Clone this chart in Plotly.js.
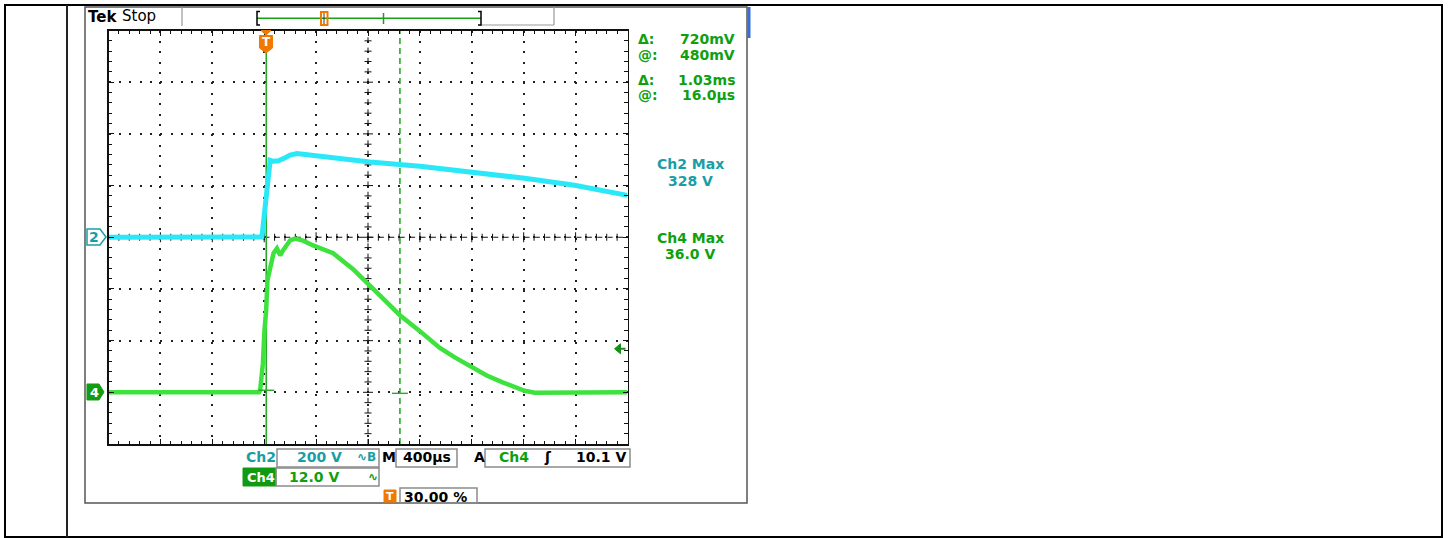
<!DOCTYPE html>
<html>
<head>
<meta charset="utf-8">
<script src="https://cdn.plot.ly/plotly-3.0.1.min.js"></script>
<style>
html,body{margin:0;padding:0;background:#fff;}
#chart{width:1448px;height:538px;}
</style>
</head>
<body>
<div id="chart"></div>
<script>
// Channel 2 (200 V/div, ground at centre), time in microseconds relative to trigger
const ch2Time = [-1200, -18, -8, 2, 12, 21, 31, 38, 46, 72, 110, 162, 200, 252, 377, 508, 636, 815, 1200, 1585, 2008, 2392, 2800];
const ch2Volt = [0, 1, 46, 93, 162, 209, 251, 286, 298, 294, 296, 308, 318, 324, 317, 311, 301, 291, 275, 253, 228, 201, 162];
// Channel 4 (12 V/div, ground 3 div below centre)
const ch4Time = [-1200, -40, -31, -10, 2, 15, 25, 46, 72, 98, 123, 146, 200, 238, 300, 377, 531, 685, 815, 931, 1046, 1200, 1354, 1469, 1585, 1715, 1838, 1931, 2008, 2085, 2800];
const ch4Volt = [0, 0, 0.5, 6.7, 14.4, 19.0, 26.0, 29.1, 32.3, 33.4, 31.8, 33.0, 35.3, 35.7, 35.2, 34.1, 32.3, 28.6, 24.8, 21.4, 17.9, 14.2, 10.3, 8.1, 6.0, 3.9, 2.3, 1.2, 0.35, -0.1, 0];
// Cursor readings
const cursorTimes = [16, 1046];          // µs
const cursorVolts = [0.48, -0.24];       // V on Ch4
const triggerLevel = 10.1;               // V on Ch4
const readouts = [["Δ:", "720mV"], ["@:", "480mV"], ["Δ:", "1.03ms"], ["@:", "16.0µs"]];
const maxLabels = [["Ch2 Max", "328 V"], ["Ch4 Max", "36.0 V"]];
const settings = {ch2: "200 V", ch4: "12.0 V", time: "400µs", trig: "10.1 V", pos: "30.00 %"};

// ---- Geometry helpers (page pixels -> paper) ----
const W = 1448, H = 538;
const X = p => p / W, Y = p => 1 - p / H;
const GL = 108.5, GR = 627.5, GT = 30.5, GB = 444;

const TEAL = '#1a9ea6', GREEN = '#0ea00e', CYAN = '#2ae8f8', TR4 = '#3de23d', CUR = '#2aa82a', ORANGE = '#f07a00';
const FONT = 'DejaVu Sans';

const shapes = [];
function rectPx(x0, y0, x1, y1, line, fill) {
  shapes.push({type: 'rect', xref: 'paper', yref: 'paper', x0: X(x0), x1: X(x1), y0: Y(y1), y1: Y(y0),
    line: line || {color: '#000', width: 1}, fillcolor: fill || 'rgba(0,0,0,0)', layer: 'above'});
}
function linePx(x0, y0, x1, y1, color, width, dash) {
  shapes.push({type: 'line', xref: 'paper', yref: 'paper', x0: X(x0), x1: X(x1), y0: Y(y0), y1: Y(y1),
    line: {color: color, width: width, dash: dash || 'solid'}, layer: 'above'});
}
function pathPx(pts, color, fill, width) {
  const d = pts.map((p, i) => (i ? 'L' : 'M') + X(p[0]).toFixed(5) + ',' + Y(p[1]).toFixed(5)).join(' ') + ' Z';
  shapes.push({type: 'path', xref: 'paper', yref: 'paper', path: d, line: {color: color, width: width || 1}, fillcolor: fill, layer: 'above'});
}

// Table borders
rectPx(5, 5, 1442, 537, {color: '#000', width: 2});
linePx(67, 5, 67, 537, '#222', 2);
// Screenshot frame
rectPx(85, 7, 747, 503, {color: '#555', width: 1.5});
rectPx(747.5, 7, 750.5, 38, {color: 'rgba(0,0,0,0)', width: 0}, '#3a6fd0');
// Status bar
linePx(182, 7, 182, 26, '#999', 1.2);
linePx(480, 25, 554, 25, '#999', 1.2);
linePx(554, 7, 554, 25, '#999', 1.2);
// Record bar
linePx(257, 18.3, 481, 18.3, '#19a019', 1.5);
shapes.push({type: 'path', xref: 'paper', yref: 'paper', path: `M${X(260)},${Y(11.5)} L${X(257)},${Y(11.5)} L${X(257)},${Y(25)} L${X(260)},${Y(25)}`, line: {color: '#000', width: 1.5}, layer: 'above'});
shapes.push({type: 'path', xref: 'paper', yref: 'paper', path: `M${X(478)},${Y(11.5)} L${X(481)},${Y(11.5)} L${X(481)},${Y(25)} L${X(478)},${Y(25)}`, line: {color: '#000', width: 1.5}, layer: 'above'});
rectPx(321, 12, 327.5, 25, {color: ORANGE, width: 2});
linePx(324, 13, 324, 24, '#333', 1);
linePx(383.5, 13, 383.5, 24, '#19a019', 1.5);

// Centre axes with ticks (graticule)
shapes.push({type: 'line', xref: 'x', yref: 'y', x0: -1200, x1: 2800, y0: 0, y1: 0, line: {color: '#111', width: 1, dash: '5px,5.4px'}, layer: 'between'});
shapes.push({type: 'line', xref: 'x', yref: 'y', x0: 800, x1: 800, y0: -800, y1: 800, line: {color: '#111', width: 1, dash: '5px,5.3px'}, layer: 'between'});
for (let k = 1; k < 50; k++) {
  const t = -1200 + k * 80, len = (k % 5 === 0) ? 5 : 3.5;
  shapes.push({type: 'line', xref: 'x', yref: 'y', ysizemode: 'pixel', yanchor: 0, y0: -len, y1: len, x0: t, x1: t, line: {color: '#111', width: 1}, layer: 'between'});
}
for (let j = 1; j < 40; j++) {
  const v = -800 + j * 40, len = (j % 5 === 0) ? 5 : 3.5;
  shapes.push({type: 'line', xref: 'x', yref: 'y', xsizemode: 'pixel', xanchor: 800, x0: -len, x1: len, y0: v, y1: v, line: {color: '#111', width: 1}, layer: 'between'});
}

// Cursors
shapes.push({type: 'line', xref: 'x', yref: 'y', x0: cursorTimes[0], x1: cursorTimes[0], y0: -800, y1: 800, line: {color: CUR, width: 1.6}, layer: 'between'});
shapes.push({type: 'line', xref: 'x', yref: 'y', x0: cursorTimes[1], x1: cursorTimes[1], y0: -800, y1: 800, line: {color: CUR, width: 1.6, dash: '6px,4px'}, layer: 'between'});
cursorTimes.forEach((t, i) => {
  shapes.push({type: 'line', xref: 'x', yref: 'y2', xsizemode: 'pixel', xanchor: t, x0: -8, x1: 8, y0: cursorVolts[i], y1: cursorVolts[i], line: {color: CUR, width: 1.4}, layer: 'above'});
});
// Trigger level arrow (right edge, Ch4 scale)
shapes.push({type: 'path', xref: 'x', yref: 'y2', xsizemode: 'pixel', xanchor: 2800, ysizemode: 'pixel', yanchor: triggerLevel,
  path: 'M-13,0 L-7,5 L-7,-5 Z', line: {color: '#178f17', width: 1}, fillcolor: '#178f17', layer: 'above'});
shapes.push({type: 'line', xref: 'x', yref: 'y2', xsizemode: 'pixel', xanchor: 2800, x0: -8, x1: -2, y0: triggerLevel, y1: triggerLevel,
  line: {color: '#178f17', width: 2}, layer: 'above'});

// Channel markers
pathPx([[87, 229], [100, 229], [106, 237], [100, 245], [87, 245]], TEAL, '#fff', 1.5);
pathPx([[87, 384], [99, 384], [104, 392], [99, 400], [87, 400]], '#139c13', '#139c13', 1);
// Trigger marker
pathPx([[261, 30.5], [271, 30.5], [266, 35]], ORANGE, ORANGE, 1);
pathPx([[259.5, 35.5], [272.5, 35.5], [272.5, 48], [266, 53], [259.5, 48]], ORANGE, ORANGE, 1);

// Bottom status boxes
const BOX = {color: '#8c8c8c', width: 1.5};
rectPx(277, 449, 379, 467, BOX);
rectPx(396, 449, 457, 467, BOX);
rectPx(485, 449, 630, 467, BOX);
rectPx(243, 468, 276, 486, {color: '#109a10', width: 1}, '#109a10');
rectPx(276, 468, 379, 486, BOX);
rectPx(384, 490, 396, 502, {color: ORANGE, width: 1}, ORANGE);
rectPx(400, 488, 477, 503, BOX);

// ---- Annotations ----
const ann = [];
function txt(x, y, s, color, size, xanchor, bold) {
  ann.push({xref: 'paper', yref: 'paper', x: X(x), y: Y(y), text: bold === false ? s : '<b>' + s + '</b>', showarrow: false,
    xanchor: xanchor || 'left', yanchor: 'middle', font: {family: FONT, size: size || 14, color: color}});
}
txt(86, 17, 'Tek', '#000', 15, 'left');
txt(120, 16, 'Stop', '#000', 15, 'left', false);
const ry = [39, 55, 80, 95];
readouts.forEach((r, i) => { txt(636, ry[i], r[0], GREEN, 14, 'left'); txt(737, ry[i], r[1], GREEN, 14, 'right'); });
txt(690, 164, maxLabels[0][0], TEAL, 14, 'center');
txt(690, 181, maxLabels[0][1], TEAL, 14, 'center');
txt(690, 238, maxLabels[1][0], GREEN, 14, 'center');
txt(690, 254, maxLabels[1][1], GREEN, 14, 'center');
txt(94, 237, '2', TEAL, 14, 'center');
txt(94, 392, '4', '#fff', 13, 'center');
txt(266, 42, 'T', '#fff', 12, 'center');
// bottom row 1
txt(244, 457, 'Ch2', TEAL, 14, 'left');
txt(344, 457, settings.ch2, TEAL, 14, 'right');
txt(355, 457, '∿B', TEAL, 12, 'left');
txt(380, 457, 'M', '#000', 14, 'left');
txt(427, 457, settings.time, '#000', 14, 'center');
txt(472, 457, 'A', '#000', 14, 'left');
txt(497, 457, 'Ch4', GREEN, 14, 'left');
txt(548, 457, 'ʃ', '#000', 14, 'center');
txt(628, 457, settings.trig, '#000', 14, 'right');
// bottom row 2
txt(245, 477, 'Ch4', '#fff', 13, 'left');
txt(341, 477, settings.ch4, GREEN, 14, 'right');
txt(366, 477, '∿', GREEN, 12, 'left');
// bottom row 3
txt(390, 496, 'T', '#fff', 11, 'center');
txt(402, 497, settings.pos, '#000', 14, 'left');

// ---- Traces ----
const traces = [
  {x: ch2Time, y: ch2Volt, type: 'scatter', mode: 'lines', yaxis: 'y', line: {color: CYAN, width: 5}, hoverinfo: 'skip'},
  {x: ch4Time, y: ch4Volt, type: 'scatter', mode: 'lines', yaxis: 'y2', line: {color: TR4, width: 4.5}, hoverinfo: 'skip'}
];

const layout = {
  width: W, height: H,
  margin: {l: 0, r: 0, t: 0, b: 0, pad: 0},
  paper_bgcolor: '#fff', plot_bgcolor: 'rgba(0,0,0,0)',
  showlegend: false,
  xaxis: {
    domain: [X(GL), X(GR)], range: [-1200, 2800], tick0: -1200, dtick: 400,
    showgrid: true, gridcolor: '#222', gridwidth: 2, griddash: '2px,8.38px',
    zeroline: false, showline: true, linecolor: '#111', linewidth: 1.5, mirror: 'ticks',
    ticks: 'inside', ticklen: 5, tickcolor: '#111', tickwidth: 1, showticklabels: false,
    minor: {dtick: 80, ticks: 'inside', ticklen: 3.5, tickcolor: '#111', tickwidth: 1, showgrid: false},
    fixedrange: true
  },
  yaxis: {
    domain: [Y(GB), Y(GT)], range: [-800, 800], tick0: -800, dtick: 200,
    showgrid: true, gridcolor: '#222', gridwidth: 2, griddash: '2px,8.35px',
    zeroline: false, showline: true, linecolor: '#111', linewidth: 1.5, mirror: 'ticks',
    ticks: 'inside', ticklen: 5, tickcolor: '#111', tickwidth: 1, showticklabels: false,
    minor: {dtick: 40, ticks: 'inside', ticklen: 3.5, tickcolor: '#111', tickwidth: 1, showgrid: false},
    fixedrange: true
  },
  yaxis2: {
    overlaying: 'y', range: [-12, 84], showgrid: false, zeroline: false, showline: false,
    showticklabels: false, ticks: '', fixedrange: true
  },
  shapes: shapes,
  annotations: ann
};

Plotly.newPlot('chart', traces, layout, {staticPlot: true, displayModeBar: false});
</script>
</body>
</html>
